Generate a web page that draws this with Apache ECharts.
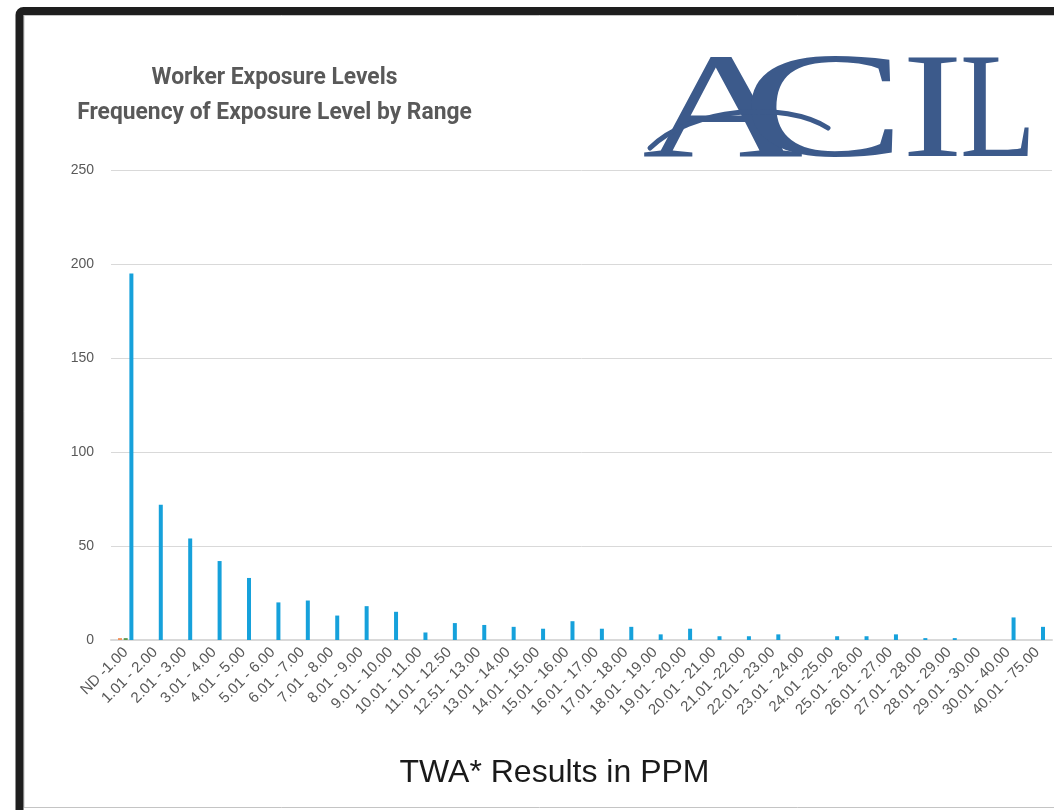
<!DOCTYPE html>
<html>
<head>
<meta charset="utf-8">
<script src="https://cdn.jsdelivr.net/npm/echarts@6/dist/echarts.min.js"></script>
<style>
html,body{margin:0;padding:0;background:#ffffff;}
#chart{width:1054px;height:810px;}
</style>
</head>
<body>
<div id="chart"></div>
<script>
const titleLines = ['Worker Exposure Levels', 'Frequency of Exposure Level by Range'];
const xAxisTitle = 'TWA* Results in PPM';
const categories = ['ND -1.00','1.01 - 2.00','2.01 - 3.00','3.01 - 4.00','4.01 - 5.00','5.01 - 6.00','6.01 - 7.00','7.01 - 8.00','8.01 - 9.00','9.01 - 10.00','10.01 - 11.00','11.01 - 12.50','12.51 - 13.00','13.01 - 14.00','14.01 - 15.00','15.01 - 16.00','16.01 - 17.00','17.01 - 18.00','18.01 - 19.00','19.01 - 20.00','20.01 - 21.00','21.01 -22.00','22.01 - 23.00','23.01 - 24.00','24.01 -25.00','25.01 - 26.00','26.01 - 27.00','27.01 - 28.00','28.01 - 29.00','29.01 - 30.00','30.01 - 40.00','40.01 - 75.00'];
const orangeValues = [1,0,0,0,0,0,0,0,0,0,0,0,0,0,0,0,0,0,0,0,0,0,0,0,0,0,0,0,0,0,0,0];
const greenValues  = [1,0,0,0,0,0,0,0,0,0,0,0,0,0,0,0,0,0,0,0,0,0,0,0,0,0,0,0,0,0,0,0];
const blueValues   = [195,72,54,42,33,20,21,13,18,15,4,9,8,7,6,10,6,7,3,6,2,2,3,0,2,2,3,1,1,0,12,7];
const yTicks = {min:0, max:250, interval:50};

const chart = echarts.init(document.getElementById('chart'), null, {renderer:'canvas'});
const logoColor = '#3c5a8b';
const labelColor = '#595959';
const barBase = {type:'bar', barWidth:4, barGap:'42%', animation:false};
const logoY = 192;

chart.setOption({
  animation:false,
  backgroundColor:'#ffffff',
  grid:{left:111, right:2, top:170, bottom:170, outerBoundsMode:'none', containLabel:false},
  xAxis:{
    type:'category', data:categories,
    axisLine:{show:true, lineStyle:{color:'#d9d9d9', width:2}},
    axisTick:{show:false},
    axisLabel:{rotate:45, interval:0, color:labelColor, fontFamily:'Liberation Sans', fontSize:15, margin:10},
    name:xAxisTitle, nameLocation:'middle', nameGap:117,
    nameTextStyle:{color:'#1a1a1a', fontFamily:'Liberation Sans', fontSize:32, padding:[0,54,0,0]}
  },
  yAxis:{
    type:'value', min:yTicks.min, max:yTicks.max, interval:yTicks.interval,
    axisLine:{show:false}, axisTick:{show:false},
    axisLabel:{color:labelColor, fontFamily:'Liberation Sans', fontSize:14, margin:17},
    splitLine:{lineStyle:{color:'#d9d9d9', width:1}}
  },
  series:[
    Object.assign({name:'Series A', data:orangeValues, itemStyle:{color:'#f0905a'}}, barBase),
    Object.assign({name:'Series B', data:greenValues, itemStyle:{color:'#5a9a50'}}, barBase),
    Object.assign({name:'Series C', data:blueValues, itemStyle:{color:'#16a1db'}}, barBase)
  ],
  graphic:[
    {type:'rect', silent:true, z:100, shape:{x:19.5, y:11, width:1100, height:900, r:4}, style:{fill:'none', stroke:'#1e1e1e', lineWidth:8}},
    {type:'rect', silent:true, z:99, shape:{x:24, y:15.5, width:1100, height:792}, style:{fill:'none', stroke:'#c4c4c4', lineWidth:1}},
    {type:'text', silent:true, x:274.5, y:78, scaleX:0.95, style:{text:titleLines[0], align:'center', verticalAlign:'middle', fontFamily:'Roboto', fontWeight:'bold', fontSize:24, fill:labelColor}},
    {type:'text', silent:true, x:274.5, y:113, scaleX:0.95, style:{text:titleLines[1], align:'center', verticalAlign:'middle', fontFamily:'Roboto', fontWeight:'bold', fontSize:24, fill:labelColor}},
    {type:'text', silent:true, x:642, y:logoY, scaleX:1.49, style:{text:'A', align:'left', verticalAlign:'bottom', fontFamily:'Liberation Serif', fontSize:150, fill:logoColor}},
    {type:'text', silent:true, x:741, y:logoY, scaleX:1.65, style:{text:'C', align:'left', verticalAlign:'bottom', fontFamily:'Liberation Serif', fontSize:150, fill:logoColor}},
    {type:'text', silent:true, x:902, y:logoY, scaleX:1.22, style:{text:'I', align:'left', verticalAlign:'bottom', fontFamily:'Liberation Serif', fontSize:150, fill:logoColor}},
    {type:'text', silent:true, x:960, y:logoY, scaleX:0.83, style:{text:'L', align:'left', verticalAlign:'bottom', fontFamily:'Liberation Serif', fontSize:150, fill:logoColor}},
    {type:'bezierCurve', silent:true, shape:{x1:650, y1:148, cpx1:690, cpy1:108, cpx2:785, cpy2:100, x2:828, y2:128}, style:{stroke:logoColor, lineWidth:5, fill:'none', lineCap:'round'}}
  ]
});
</script>
</body>
</html>
